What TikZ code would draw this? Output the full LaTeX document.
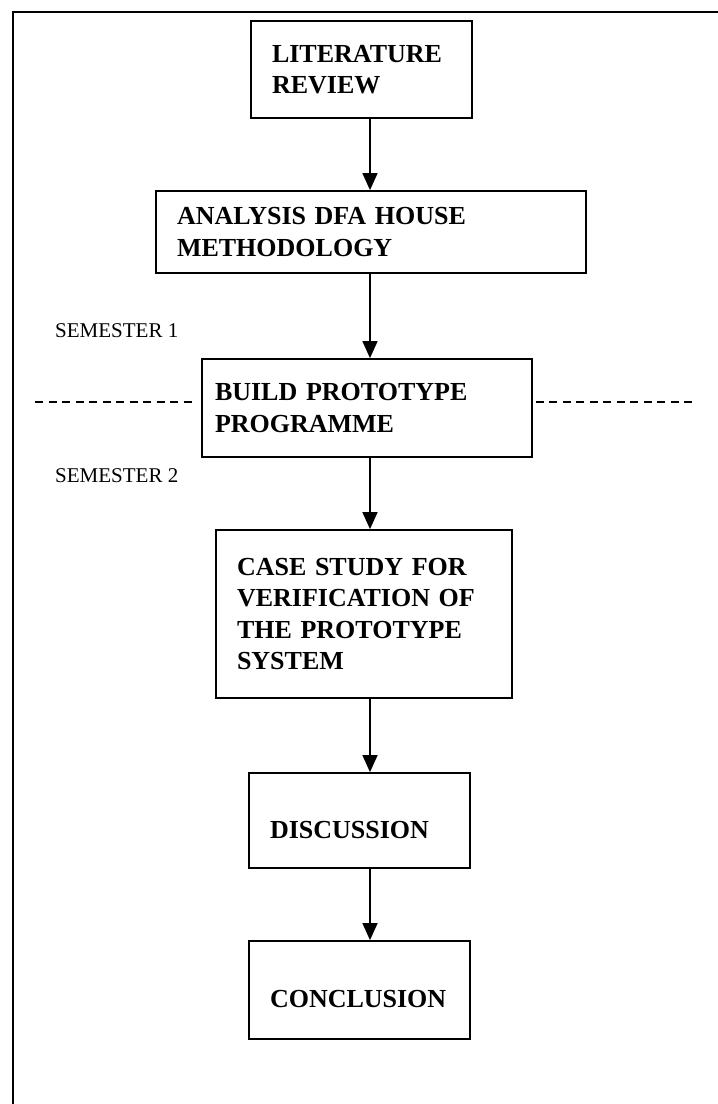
\documentclass[tikz,border=0pt]{standalone}
\usepackage{fontspec}
\setmainfont{Liberation Serif}
\usepackage{tikz}
\usetikzlibrary{arrows.meta, positioning}

\begin{document}
\begin{tikzpicture}[
  x=1pt, y=-1pt,
  stage/.style={
    rectangle, draw=black, line width=1.8pt,
    align=left, font=\fontsize{26}{31.5}\selectfont\bfseries,
    inner xsep=21pt, inner ysep=4pt
  },
  note/.style={anchor=base west, inner sep=0pt, font=\fontsize{21}{24}\selectfont},
  arr/.style={-{Triangle[length=17pt, width=15pt]}, line width=1.6pt},
  divider/.style={line width=1.8pt, dash pattern=on 8pt off 5.5pt},
]
\useasboundingbox (0,0) rectangle (718,1104);

%% Rahmen
\coordinate (ftr) at (718,12);
\coordinate (ftl) at (13,12);
\coordinate (fbl) at (13,1104);
\draw[line width=2.2pt] (ftr) -- (ftl) -- (fbl);

%% Stufen
\node[stage, text width=179pt, minimum height=97pt]  (lit)   at (361.5, 69.5) {LITERATURE\\REVIEW};
\node[stage, text width=388pt, minimum height=82pt]  (dfa)   at (371, 232)    {ANALYSIS DFA HOUSE\\METHODOLOGY};
\node[stage, text width=304pt, minimum height=98pt, inner xsep=13pt] (proto) at (367, 408) {BUILD PROTOTYPE\\PROGRAMME};
\node[stage, text width=254pt, minimum height=168pt] (case)  at (364, 614)    {CASE STUDY FOR\\VERIFICATION OF\\THE PROTOTYPE\\SYSTEM};
\node[stage, text width=179pt, minimum height=95pt, text height=36pt] (disc)  at (359.5, 820.5){DISCUSSION};
\node[stage, text width=179pt, minimum height=98pt, text height=36pt] (concl) at (359.5, 990)  {CONCLUSION};

%% Semester
\node[note] (sem1) at (55, 337) {SEMESTER 1};
\node[note] (sem2) at (55, 482) {SEMESTER 2};

\coordinate (dl) at (35, 402);
\coordinate (dr) at (696, 402);
\draw[divider] (dl) -- ([xshift=-5pt]proto.west |- dl);
\draw[divider] ([xshift=3pt]proto.east |- dr) -- (dr);

%% Pfeile
\coordinate (spine) at (370, 0);
\draw[arr] (lit.south -| spine)   -- (dfa.north -| spine);
\draw[arr] (dfa.south -| spine)   -- (proto.north -| spine);
\draw[arr] (proto.south -| spine) -- (case.north -| spine);
\draw[arr] (case.south -| spine)  -- (disc.north -| spine);
\draw[arr] (disc.south -| spine)  -- (concl.north -| spine);

\end{tikzpicture}
\end{document}
